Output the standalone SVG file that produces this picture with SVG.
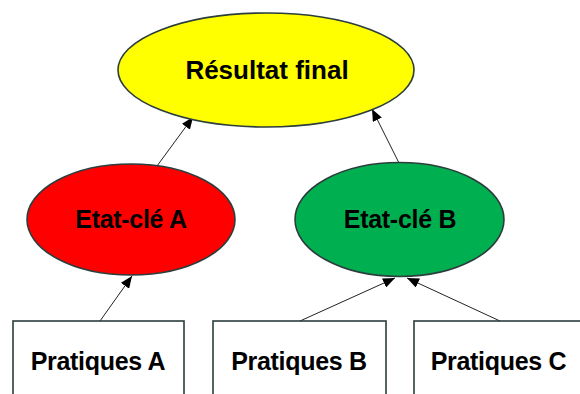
<svg xmlns="http://www.w3.org/2000/svg" width="580" height="394" viewBox="0 0 580 394">
<style>
.n{stroke:#2b3d3d;stroke-width:1.6}
.t{font-family:"Liberation Sans",Arial,sans-serif;font-weight:bold;fill:#000;text-anchor:middle}
.s{font-size:25px;letter-spacing:-0.3px}
.c{stroke:#222;stroke-width:1;fill:none;marker-end:url(#ah)}
</style>
<defs>
<marker id="ah" viewBox="0 0 12 10" refX="12" refY="5" markerWidth="12" markerHeight="10" markerUnits="userSpaceOnUse" orient="auto">
<path d="M0,0 L12,5 L0,10 Z" fill="#000"/>
</marker>
</defs>
<rect width="580" height="394" fill="#fff"/>
<g id="connectors">
<line class="c" x1="157" y1="166" x2="193" y2="117"/>
<line class="c" x1="399" y1="163" x2="372" y2="109"/>
<line class="c" x1="100" y1="321" x2="132" y2="276"/>
<line class="c" x1="300" y1="321" x2="395" y2="278"/>
<line class="c" x1="500" y1="321" x2="407" y2="278"/>
</g>
<g id="resultat">
<ellipse class="n" cx="266" cy="70" rx="148" ry="57" fill="#ffff00"/>
<text class="t" x="267" y="79" font-size="26">Résultat final</text>
</g>
<g id="etatA">
<ellipse class="n" cx="131" cy="219.5" rx="104" ry="55.5" fill="#ff0000"/>
<text class="t s" x="131" y="228">Etat-clé A</text>
</g>
<g id="etatB">
<ellipse class="n" cx="399.5" cy="219.5" rx="104.5" ry="57" fill="#00b050"/>
<text class="t s" x="400" y="228">Etat-clé B</text>
</g>
<g id="pratA">
<rect class="n" x="13" y="321" width="171" height="80" fill="#fff"/>
<text class="t s" x="98" y="370">Pratiques A</text>
</g>
<g id="pratB">
<rect class="n" x="213" y="321" width="173" height="80" fill="#fff"/>
<text class="t s" x="299" y="370">Pratiques B</text>
</g>
<g id="pratC">
<rect class="n" x="414" y="321" width="170" height="80" fill="#fff"/>
<text class="t s" x="498.5" y="370">Pratiques C</text>
</g>
</svg>
